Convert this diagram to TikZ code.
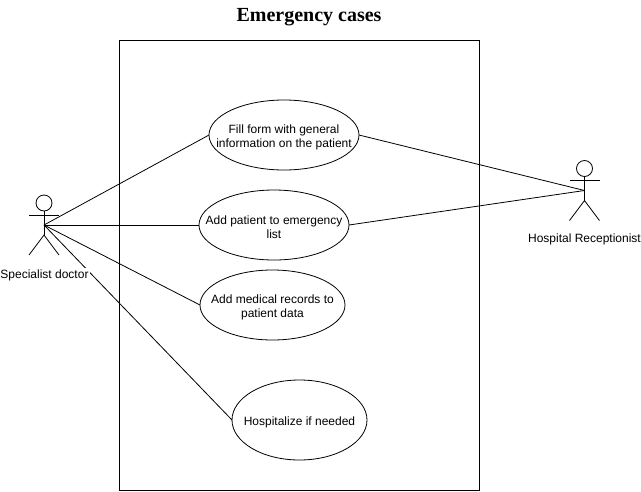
\documentclass[tikz,border=0pt]{standalone}
\usepackage{fontspec}
\setmainfont{Liberation Sans}
\newfontfamily\titlefont{Liberation Serif}
\usetikzlibrary{shapes.geometric}
\tikzset{
  x=1pt,y=-1pt,
  line/.style={draw=black,line width=0.8pt},
  usecase/.style={ellipse,line,fill=white,inner sep=-30pt,outer sep=0pt,align=center,font=\fontsize{12}{14}\selectfont},
  actorlabel/.style={fill=white,inner sep=1pt,font=\fontsize{12}{14}\selectfont},
}
\newcommand{\topgap}{\rule{0pt}{12.5pt}}
\newcommand{\actorfig}[3]{% name, x, y of head centre
  \draw[line] (#2,#3) circle[radius=8];
  \draw[line] (#2,#3+8) -- (#2,#3+32);
  \draw[line] (#2-15,#3+12) -- (#2+15,#3+12);
  \draw[line] (#2-15,#3+52) -- (#2,#3+32) -- (#2+15,#3+52);
  \coordinate (#1) at (#2,#3+22);
}
\begin{document}
\begin{tikzpicture}
\useasboundingbox (0,0) rectangle (641,491);
\node[inner sep=0pt,font=\titlefont\bfseries\fontsize{20}{22}\selectfont] (title) at (309,17) {Emergency cases};
\node[draw=black,line width=0.8pt,minimum width=360pt,minimum height=450pt,inner sep=0pt,outer sep=0pt] (system) at (299,265) {};
\actorfig{doctor}{44}{203}
\actorfig{recep}{584.5}{168.5}
\node[usecase,minimum width=150pt,minimum height=70pt] (fill) at (284,135) {\topgap Fill form with general\\information on the patient};
\node[usecase,minimum width=150pt,minimum height=70pt] (add) at (274,225) {\topgap Add patient to emergency\\list};
\node[usecase,minimum width=145pt,minimum height=70pt] (rec) at (272.5,305) {\topgap Add medical records to\\patient data};
\node[usecase,minimum width=135pt,minimum height=80pt] (hosp) at (299.5,420) {\topgap Hospitalize if needed};
\draw[line] (doctor) -- (fill.west);
\draw[line] (doctor) -- (add.west);
\draw[line] (doctor) -- (rec.west);
\draw[line] (doctor) -- (hosp.west);
\draw[line] (recep) -- (fill.east);
\draw[line] (recep) -- (add.east);
\node[actorlabel] (doctorlabel) at (44.5,275) {Specialist doctor};
\node[actorlabel] (receplabel) at (584.5,239) {Hospital Receptionist};
\end{tikzpicture}
\end{document}
